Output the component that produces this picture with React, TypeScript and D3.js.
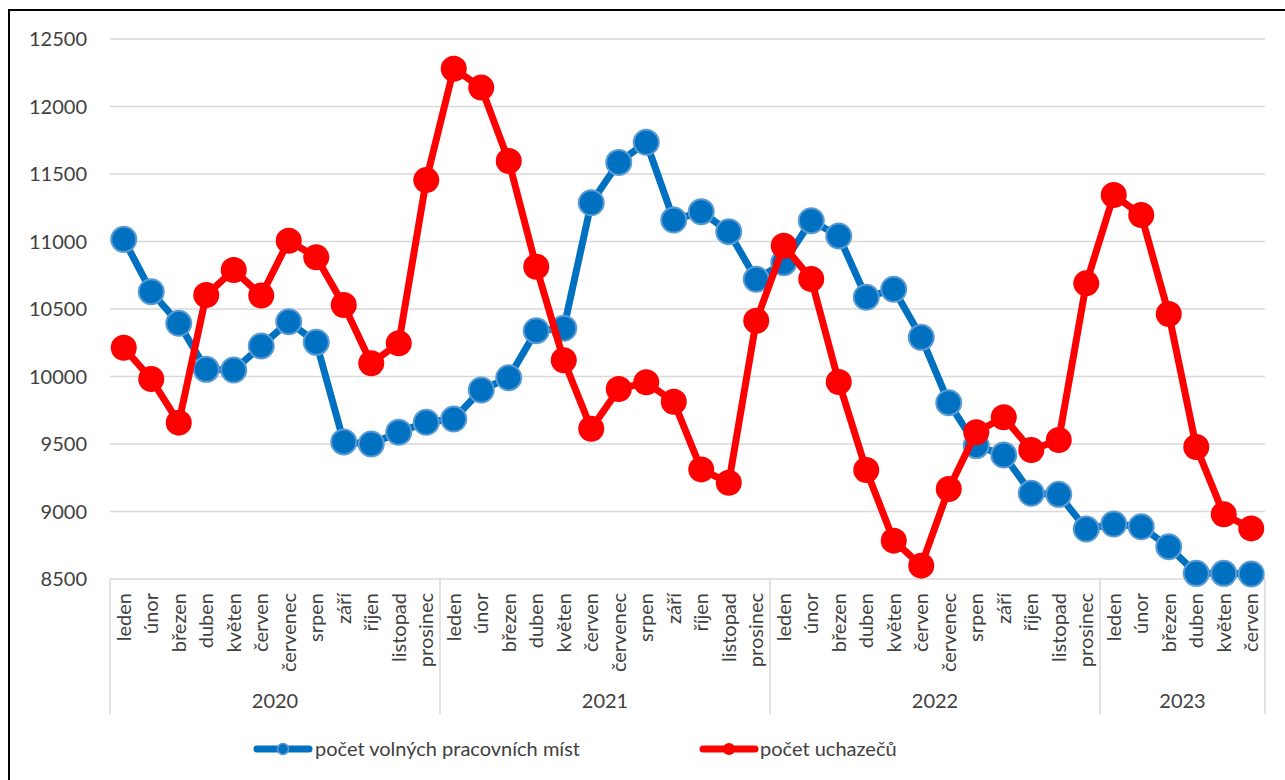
import * as React from "react"
import * as d3 from "d3"

const monthNames = [
  "leden", "únor", "březen", "duben", "květen", "červen",
  "červenec", "srpen", "září", "říjen", "listopad", "prosinec",
]
const years = ["2020", "2021", "2022", "2023"]
const monthsPerYear = [12, 12, 12, 6]

const vacancies = [
  11016, 10628, 10394, 10053, 10048, 10226, 10406, 10253, 9515, 9500, 9587, 9661,
  9685, 9900, 9991, 10339, 10357, 11287, 11586, 11735, 11159, 11221, 11073, 10720,
  10843, 11154, 11041, 10587, 10646, 10290, 9806, 9488, 9418, 9135, 9127, 8870,
  8907, 8887, 8739, 8542, 8542, 8537,
]
const applicants = [
  10213, 9981, 9658, 10604, 10789, 10600, 11006, 10883, 10530, 10098, 10246, 11455,
  12280, 12140, 11596, 10813, 10120, 9613, 9907, 9957, 9813, 9312, 9213, 10413,
  10969, 10722, 9959, 9307, 8784, 8599, 9167, 9587, 9698, 9456, 9530, 10690,
  11344, 11196, 10463, 9478, 8979, 8875,
]
const yTicks = [8500, 9000, 9500, 10000, 10500, 11000, 11500, 12000, 12500]
const seriesNames = ["počet volných pracovních míst", "počet uchazečů"]

const W = 1285
const H = 780
const margin = { top: 39, right: 20, bottom: 201, left: 110 }
const font = "Lato, 'Noto Sans', sans-serif"
const textColor = "#404040"
const gridColor = "#D9D9D9"
const blue = "#0070C0"
const blueEdge = "#5B9BD5"
const red = "#FF0000"

export default function App() {
  const labels = years.flatMap((yr, i) =>
    monthNames.slice(0, monthsPerYear[i]).map((m) => ({ year: yr, month: m }))
  )
  const idx = labels.map((_d, i) => String(i))

  const x = d3
    .scaleBand()
    .domain(idx)
    .range([margin.left, W - margin.right])
  const y = d3
    .scaleLinear()
    .domain([8500, 12500])
    .range([H - margin.bottom, margin.top])

  const cx = (i: number) => (x(String(i)) as number) + x.bandwidth() / 2
  const line = d3
    .line<number>()
    .x((_d, i) => cx(i))
    .y((d) => y(d))

  const axisY = H - margin.bottom
  const sepBottom = axisY + 135

  let start = 0
  const yearGroups = years.map((yr, i) => {
    const g = { year: yr, from: start, to: start + monthsPerYear[i] }
    start += monthsPerYear[i]
    return g
  })
  const edge = (k: number) =>
    k >= labels.length ? x.range()[1] : (x(String(k)) as number)

  return (
    <div style={{ position: "absolute", left: 0, top: 0 }}>
      <svg width={W} height={H} style={{ display: "block", background: "#fff" }}>
        <rect x={9} y={10} width={W} height={H} fill="#fff" stroke="#000" strokeWidth={2} />

        {yTicks.map((t) => (
          <g key={t}>
            {t > 8500 && (
              <line x1={margin.left} x2={W - margin.right} y1={y(t)} y2={y(t)} stroke={gridColor} strokeWidth={1.5} />
            )}
            <text x={87} y={y(t)} dy="0.35em" textAnchor="end" fontFamily={font} fontSize={20} fill={textColor}>
              {t}
            </text>
          </g>
        ))}

        {/* category axis */}
        <line x1={margin.left} x2={W - margin.right} y1={axisY} y2={axisY} stroke={gridColor} strokeWidth={1.5} />
        {[0, ...yearGroups.map((g) => g.to)].map((k) => (
          <line key={k} x1={edge(k)} x2={edge(k)} y1={axisY} y2={sepBottom} stroke={gridColor} strokeWidth={1.5} />
        ))}
        {labels.map((d, i) => (
          <text
            key={i}
            transform={`translate(${cx(i)},${axisY + 14}) rotate(-90)`}
            dy="0.35em"
            textAnchor="end"
            fontFamily={font}
            fontSize={20}
            fill={textColor}
          >
            {d.month}
          </text>
        ))}
        {yearGroups.map((g) => (
          <text
            key={g.year}
            x={(edge(g.from) + edge(g.to)) / 2}
            y={axisY + 129}
            textAnchor="middle"
            fontFamily={font}
            fontSize={20}
            fill={textColor}
          >
            {g.year}
          </text>
        ))}

        {/* series */}
        <path d={line(vacancies) ?? ""} fill="none" stroke={blue} strokeWidth={7} strokeLinejoin="round" />
        {vacancies.map((v, i) => (
          <circle key={i} cx={cx(i)} cy={y(v)} r={12.5} fill={blue} stroke={blueEdge} strokeWidth={2} />
        ))}
        <path d={line(applicants) ?? ""} fill="none" stroke={red} strokeWidth={7} strokeLinejoin="round" />
        {applicants.map((v, i) => (
          <circle key={i} cx={cx(i)} cy={y(v)} r={13} fill={red} />
        ))}

        {/* legend */}
        <g>
          <line x1={257} x2={309} y1={749} y2={749} stroke={blue} strokeWidth={7} strokeLinecap="round" />
          <circle cx={283} cy={749} r={5.5} fill={blue} stroke={blueEdge} strokeWidth={1.5} />
          <text x={315} y={749} dy="0.35em" fontFamily={font} fontSize={20} fill={textColor}>
            {seriesNames[0]}
          </text>
          <line x1={703} x2={755} y1={749} y2={749} stroke={red} strokeWidth={7} strokeLinecap="round" />
          <circle cx={729} cy={749} r={6} fill={red} />
          <text x={760} y={749} dy="0.35em" fontFamily={font} fontSize={20} fill={textColor}>
            {seriesNames[1]}
          </text>
        </g>
      </svg>
    </div>
  )
}
